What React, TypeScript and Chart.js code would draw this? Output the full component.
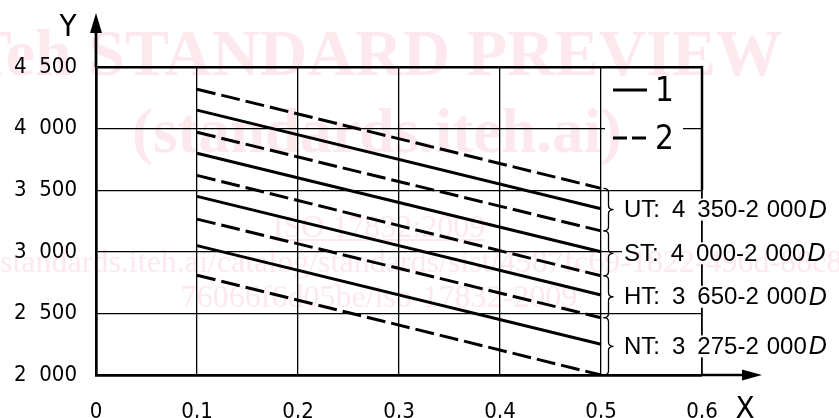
import React, { useEffect, useRef } from "react";
import { Chart, registerables } from "chart.js";

Chart.register(...registerables);

// ---- data ----
const xStart = 0.1;
const xEnd = 0.5;
// series 1 (solid): class lines
const solidStart = [4150, 3800, 3450, 3050];
const solidEnd = [3350, 3000, 2650, 2250];
// series 2 (dashed): class limits
const dashedStart = [4320, 3970, 3620, 3265, 2810];
const dashedEnd = [3515, 3170, 2805, 2465, 2000];
const classNames = ["UT", "ST", "HT", "NT"];
const classFormulas = ["4 350-2 000", "4 000-2 000", "3 650-2 000", "3 275-2 000"];
const yTicks = [2000, 2500, 3000, 3500, 4000, 4500];
const xTicks = [0, 0.1, 0.2, 0.3, 0.4, 0.5, 0.6];
const legendLabels = ["1", "2"];
const axisTitles = ["X", "Y"];
const watermarkLines = [
  "iTeh STANDARD PREVIEW",
  "(standards.iteh.ai)",
  "ISO 17832:2009",
  "https://standards.iteh.ai/catalog/standards/sist/4587fc69-1822-496d-88c8-",
  "76066f6d05be/iso-17832-2009",
];

const ISO_FONT = "'DejaVu Sans Condensed', 'Liberation Sans Narrow', 'DejaVu Sans', sans-serif";
const SANS = "'Liberation Sans', Arial, sans-serif";
const SERIF = "'Liberation Serif', 'DejaVu Serif', serif";
const DASH = [19, 6];

const fmtY = (v: number) => {
  const s = String(Math.round(v));
  return s.slice(0, -3) + "\u2007" + s.slice(-3);
};
const fmtX = (v: number) => (v === 0 ? "0" : v.toFixed(1).replace(".", ","));
const fmtFormula = (f: string) => {
  const parts = f.split(" ");
  return parts.slice(0, -1).join("\u2002") + "\u2004" + parts[parts.length - 1];
};

const overlay = {
  id: "overlay",
  afterDraw(chart: any) {
    const ctx: CanvasRenderingContext2D = chart.ctx;
    const xs = chart.scales.x;
    const ys = chart.scales.y;
    const area = chart.chartArea;
    const px = (v: number) => xs.getPixelForValue(v);
    const py = (v: number) => ys.getPixelForValue(v);
    ctx.save();
    ctx.strokeStyle = "#000";
    ctx.fillStyle = "#000";

    // thick right border above 3500
    ctx.lineWidth = 2.5;
    ctx.beginPath();
    ctx.moveTo(px(0.6), py(4500) - 1.2);
    ctx.lineTo(px(0.6), py(3500));
    ctx.stroke();

    // axis extensions and arrows
    ctx.lineWidth = 2.7;
    ctx.beginPath();
    ctx.moveTo(area.left, area.top);
    ctx.lineTo(area.left, 30);
    ctx.moveTo(area.right, area.bottom);
    ctx.lineTo(745, area.bottom);
    ctx.stroke();
    ctx.beginPath();
    ctx.moveTo(area.left, 13);
    ctx.lineTo(area.left - 6, 33);
    ctx.lineTo(area.left + 6, 33);
    ctx.closePath();
    ctx.fill();
    ctx.beginPath();
    ctx.moveTo(762, area.bottom);
    ctx.lineTo(742, area.bottom - 5.5);
    ctx.lineTo(742, area.bottom + 5.5);
    ctx.closePath();
    ctx.fill();

    // braces and class labels
    const x0 = px(xEnd) + 2.5;
    const xm = x0 + 5;
    const xt = x0 + 10;
    for (let i = 0; i < classNames.length; i++) {
      const top = py(dashedEnd[i]);
      const bot = py(dashedEnd[i + 1]);
      const mid = (top + bot) / 2;
      ctx.lineWidth = 1.3;
      ctx.beginPath();
      ctx.moveTo(x0, top);
      ctx.quadraticCurveTo(xm, top, xm, top + 4);
      ctx.lineTo(xm, mid - 4);
      ctx.quadraticCurveTo(xm, mid, xt, mid);
      ctx.quadraticCurveTo(xm, mid, xm, mid + 4);
      ctx.lineTo(xm, bot - 4);
      ctx.quadraticCurveTo(xm, bot, x0, bot);
      ctx.stroke();

      const tx = 624;
      ctx.fillStyle = "#fff";
      ctx.fillRect(tx - 2, mid - 11, 839 - tx + 2, 22);
      ctx.fillStyle = "#000";
      ctx.textBaseline = "middle";
      ctx.textAlign = "left";
      ctx.font = `24px ${SANS}`;
      const main = `${classNames[i]}:\u2002${fmtFormula(classFormulas[i])}`;
      ctx.fillText(main, tx, mid + 1);
      const w = ctx.measureText(main).width;
      ctx.font = `italic 25px ${SANS}`;
      ctx.fillText("D", tx + w + 2, mid + 1);
    }

    // legend
    ctx.fillStyle = "#fff";
    ctx.fillRect(605, 74, 78, 82);
    ctx.fillStyle = "#000";
    ctx.lineWidth = 3;
    ctx.beginPath();
    ctx.moveTo(613, 90);
    ctx.lineTo(647, 90);
    ctx.stroke();
    ctx.setLineDash([14, 5]);
    ctx.beginPath();
    ctx.moveTo(613, 138);
    ctx.lineTo(647, 138);
    ctx.stroke();
    ctx.setLineDash([]);
    ctx.font = `33px ${ISO_FONT}`;
    ctx.textAlign = "left";
    ctx.textBaseline = "middle";
    ctx.fillText(legendLabels[0], 655, 92);
    ctx.fillText(legendLabels[1], 655, 140);

    // axis titles
    ctx.font = `31px ${ISO_FONT}`;
    ctx.textAlign = "center";
    ctx.fillText(axisTitles[0], 745, 410);
    ctx.fillText(axisTitles[1], 68, 28);

    // watermark (multiplied over everything)
    ctx.globalCompositeOperation = "multiply";
    ctx.fillStyle = "#fde8ee";
    ctx.textBaseline = "alphabetic";
    ctx.font = `bold 66px ${SERIF}`;
    ctx.textAlign = "right";
    ctx.fillText(watermarkLines[0], 782, 75);
    ctx.font = `bold 63px ${SERIF}`;
    ctx.textAlign = "center";
    ctx.fillText(watermarkLines[1], 377, 152);
    ctx.font = `32px ${SERIF}`;
    ctx.fillText(watermarkLines[2], 379, 237);
    const iw = ctx.measureText(watermarkLines[2]).width;
    ctx.fillRect(379 - iw / 2, 239, iw, 2);
    ctx.textAlign = "left";
    const pre = ctx.measureText("https://").width;
    ctx.fillText(watermarkLines[3], -pre, 272);
    ctx.textAlign = "center";
    ctx.fillText(watermarkLines[4], 379, 307);
    ctx.restore();
  },
};

export default function App() {
  const ref = useRef<HTMLCanvasElement | null>(null);
  useEffect(() => {
    if (!ref.current) return;
    const datasets: any[] = [];
    for (let i = 0; i < dashedStart.length; i++) {
      datasets.push({
        data: [
          { x: xStart, y: dashedStart[i] },
          { x: xEnd, y: dashedEnd[i] },
        ],
        borderColor: "#000",
        borderWidth: 3,
        borderDash: DASH,
        pointRadius: 0,
        clip: false,
      });
      if (i < solidStart.length) {
        datasets.push({
          data: [
            { x: xStart, y: solidStart[i] },
            { x: xEnd, y: solidEnd[i] },
          ],
          borderColor: "#000",
          borderWidth: 3,
          pointRadius: 0,
          clip: false,
        });
      }
    }
    const chart = new Chart(ref.current, {
      type: "line",
      data: { datasets },
      options: {
        animation: false,
        responsive: false,
        maintainAspectRatio: false,
        layout: { padding: { top: 67, right: 137, left: 0, bottom: 0 } },
        plugins: { legend: { display: false }, tooltip: { enabled: false } },
        elements: { point: { radius: 0 }, line: { tension: 0 } },
        scales: {
          x: {
            type: "linear",
            min: 0,
            max: 0.6,
            afterFit: (s: any) => {
              s.height = 43;
            },
            afterBuildTicks: (s: any) => {
              s.ticks = xTicks.map((v) => ({ value: v }));
            },
            ticks: {
              padding: 24,
              color: "#000",
              font: { family: ISO_FONT, size: 22 },
              callback: (v: any) => fmtX(Number(v)),
            },
            grid: {
              color: "#000",
              drawTicks: false,
              lineWidth: (c: any) => (c.tick && c.tick.value === 0 ? 0 : c.tick && Math.abs(c.tick.value - 0.6) < 1e-6 ? 1.8 : 1.3),
            },
            border: { display: true, color: "#000", width: 2.7 },
          },
          y: {
            type: "linear",
            min: 2000,
            max: 4500,
            afterFit: (s: any) => {
              s.width = 96;
            },
            afterBuildTicks: (s: any) => {
              s.ticks = yTicks.map((v) => ({ value: v }));
            },
            ticks: {
              padding: 19,
              color: "#000",
              font: { family: ISO_FONT, size: 22 },
              callback: (v: any) => fmtY(Number(v)),
            },
            grid: {
              color: "#000",
              drawTicks: false,
              lineWidth: (c: any) => (c.tick && c.tick.value === 4500 ? 2.5 : c.tick && c.tick.value === 2000 ? 0 : 1.3),
            },
            border: { display: true, color: "#000", width: 2.7 },
          },
        },
      } as any,
      plugins: [overlay],
    });
    return () => chart.destroy();
  }, []);
  return (
    <div style={{ position: "fixed", left: 0, top: 0, width: 839, height: 418, background: "#fff" }}>
      <canvas ref={ref} width={839} height={418} style={{ display: "block", width: 839, height: 418 }} />
    </div>
  );
}
